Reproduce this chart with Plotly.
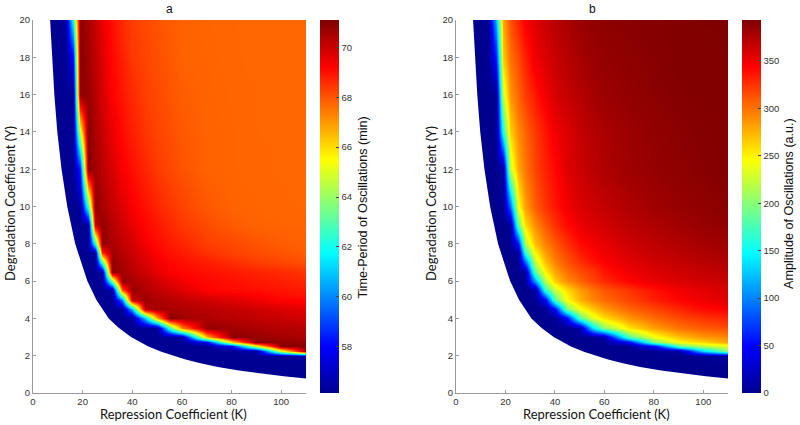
import plotly.graph_objects as go

# ---- grid (cell centres) ----
K_vals = [0, 5, 10, 13, 16, 19, 22, 25, 28, 32, 36, 40, 45, 50, 55, 60, 70, 80, 90, 100, 110]
gamma_vals = [0, 0.5, 1, 1.5, 2, 2.25, 2.5, 2.75, 3, 3.5, 4, 4.5, 5, 5.5, 6, 6.5, 7, 7.5, 8, 9, 10, 12, 14, 16, 18, 20]
N = None

# ---- panel a: time-period of oscillations (min), rows = gamma, cols = K ----
period = [
    [N]*21,
    [N]*21,
    [56.2]*21,
    [56.2]*21,
    [56.2]*20 + [56.5],
    [56.2]*18 + [56.5, 64.8, 70.6],
    [56.2]*17 + [58.0, 65.0, 71.0, 70.91],
    [56.2]*16 + [58.0, 66.0, 70.96, 70.84, 70.71],
    [56.2]*15 + [56.5, 66.6, 70.95, 70.77, 70.59, 70.43],
    [56.2]*14 + [62.8, 67.3, 70.85, 70.6, 70.45, 70.35, 70.27],
    [56.2]*12 + [60.9, 66.8, 71.0, 70.6, 70.4, 70.28, 70.15, 70.02, 69.89],
    [56.2]*11 + [60.7, 70.3, 70.6, 70.47, 70.39, 70.24, 70.09, 69.94, 69.79, 69.64],
    [56.2]*10 + [59.8, 70.0, 70.7, 70.43, 70.31, 70.18, 69.94, 69.69, 69.45, 69.2, 69.12],
    [56.2]*9 + [56.4, 67.9, 70.8, 70.41, 70.17, 69.93, 69.69, 69.2, 69.12, 69.03, 68.95, 68.86],
    [56.2]*9 + [63.6, 70.9, 70.5, 70.22, 69.93, 69.65, 69.37, 69.12, 69.01, 68.9, 68.79, 68.68],
    [56.2]*8 + [56.4, 70.8, 70.6, 70.29, 69.95, 69.61, 69.27, 69.15, 69.02, 68.88, 68.75, 68.62, 68.48],
    [56.2]*8 + [63.0, 70.95, 70.45, 70.15, 69.79, 69.42, 69.15, 69.04, 68.81, 68.58, 68.35, 68.21, 68.08],
    [56.2]*7 + [56.3, 68.5, 70.6, 70.32, 70.0, 69.6, 69.2, 69.03, 68.87, 68.54, 68.29, 68.15, 68.01, 67.87],
    [56.2]*7 + [62.2, 70.8, 70.5, 70.15, 69.89, 69.37, 69.09, 68.9, 68.71, 68.34, 68.19, 68.03, 67.88, 67.8],
    [56.2]*6 + [56.3, 70.0, 70.85, 70.31, 69.94, 69.57, 69.15, 68.91, 68.67, 68.42, 68.14, 67.9, 67.79, 67.77, 67.75],
    [56.2]*6 + [62.5, 71.0, 70.5, 70.1, 69.7, 69.3, 68.99, 68.73, 68.46, 68.26, 67.95, 67.79, 67.76, 67.74, 67.72],
    [56.2]*5 + [58.5, 70.95, 70.6, 70.26, 69.79, 69.32, 69.01, 68.7, 68.38, 68.2, 68.03, 67.79, 67.76, 67.74, 67.72, 67.7],
    [56.2]*5 + [65.0, 71.0, 70.46, 70.05, 69.51, 69.08, 68.8, 68.46, 68.25, 68.1, 67.94, 67.79, 67.76, 67.73, 67.71, 67.7],
    [56.2]*5 + [70.9, 70.75, 70.3, 69.84, 69.23, 68.93, 68.64, 68.32, 68.17, 68.01, 67.86, 67.78, 67.75, 67.72, 67.7, 67.7],
    [56.2]*4 + [58.0, 71.0, 70.6, 70.18, 69.71, 69.13, 68.78, 68.44, 68.23, 68.09, 67.94, 67.8, 67.77, 67.74, 67.71, 67.7, 67.7],
    [56.2]*4 + [62.0, 70.9, 70.52, 70.04, 69.54, 69.01, 68.63, 68.32, 68.18, 68.03, 67.89, 67.79, 67.76, 67.73, 67.7, 67.7, 67.7],
]

# ---- panel b: amplitude of oscillations (a.u.) ----
amplitude = [
    [N]*21,
    [N]*21,
    [0]*21,
    [0]*21,
    [0]*20 + [10],
    [0]*18 + [10, 130, 200],
    [0]*17 + [50, 180, 220, 235],
    [0]*16 + [50, 195, 245, 262, 280],
    [0]*15 + [10, 180, 240, 270, 285, 292],
    [0]*13 + [10, 130, 200, 255, 282, 300, 308, 314],
    [0]*12 + [50, 180, 232, 258, 286, 303, 316, 324, 330],
    [0]*11 + [50, 195, 242, 266, 284, 305, 317, 330, 340, 345],
    [0]*10 + [40, 180, 245, 275, 292, 302, 318, 332, 343, 350, 355],
    [0]*9 + [5, 165, 225, 258, 283, 298, 310, 324, 338, 348, 354, 360],
    [0]*9 + [110, 220, 265, 290, 305, 318, 328, 343, 352, 358, 362, 366],
    [0]*8 + [5, 185, 248, 280, 300, 315, 322, 336, 349, 357, 362, 366, 370],
    [0]*8 + [85, 225, 270, 295, 312, 326, 336, 344, 355, 362, 367, 371, 374],
    [0]*7 + [3, 160, 248, 282, 302, 318, 333, 342, 349, 359, 366, 371, 375, 378],
    [0]*7 + [50, 215, 270, 293, 310, 326, 340, 347, 353, 363, 369, 374, 378, 381],
    [0]*7 + [185, 258, 290, 310, 326, 340, 351, 357, 362, 370, 375, 380, 384, 387],
    [0]*6 + [85, 240, 282, 308, 324, 336, 349, 358, 362, 367, 374, 380, 384, 387, 389],
    [0]*5 + [8, 225, 278, 298, 318, 331, 342, 356, 364, 370, 375, 381, 385, 388, 390, 392],
    [0]*5 + [160, 262, 290, 305, 322, 336, 349, 358, 366, 372, 376, 382, 386, 389, 391, 392],
    [0]*5 + [230, 285, 305, 320, 336, 349, 360, 366, 373, 378, 382, 386, 389, 391, 392, 392],
    [0]*4 + [60, 265, 300, 315, 332, 350, 358, 365, 372, 378, 382, 385, 388, 390, 392, 392, 393],
    [0]*4 + [120, 280, 312, 331, 346, 356, 365, 372, 377, 383, 386, 388, 390, 391, 392, 393, 393],
]

# ---- onset of oscillations (boundary of the coloured region; last points run past the K axis) ----
onset_gamma = [20, 18, 16, 14, 12, 10, 8, 6, 5, 4, 3.5, 3, 2.5, 2.2, 2.0, 1.8, 1.6, 1.4, 1.2, 1.0, 0.9, 0.78, 0.6, 0.4, 0.2, 0]
onset_K = [6.9, 7.7, 8.6, 9.8, 11.5, 13.8, 17.0, 21.9, 25.5, 30.5, 34.5, 39.5, 46.5, 52.0, 56.5, 61.5, 67.5, 74.5, 83.0, 94.0, 101.0, 110.0, 129, 158, 203, 284]

period_ticks = [58, 60, 62, 64, 66, 68, 70]
amp_ticks = [0, 50, 100, 150, 200, 250, 300, 350]
x_ticks = [0, 20, 40, 60, 80, 100]
y_ticks = [0, 2, 4, 6, 8, 10, 12, 14, 16, 18, 20]

jet = [
    [0.0, "rgb(0,0,143)"],
    [0.125, "rgb(0,0,255)"],
    [0.375, "rgb(0,255,255)"],
    [0.625, "rgb(255,255,0)"],
    [0.875, "rgb(255,0,0)"],
    [1.0, "rgb(128,0,0)"],
]

W, H = 800, 425
def px(x):
    return x / W
def py(y):
    return (H - y) / H

TICKFONT = dict(family="Liberation Sans, Arial, sans-serif", size=9.5, color="#333333")

fig = go.Figure()

cb_common = dict(
    lenmode="pixels", len=373, thickness=19, xanchor="left", yanchor="bottom",
    y=py(393), xpad=0, ypad=0, outlinewidth=0, ticks="inside", ticklen=3,
    tickcolor="#444444", tickfont=TICKFONT,
)

fig.add_trace(go.Heatmap(
    x=K_vals, y=gamma_vals, z=period, colorscale=jet, zmin=56.14, zmax=71.1,
    zsmooth="best", xaxis="x", yaxis="y", hoverinfo="skip",
    colorbar=dict(x=px(320), tickvals=period_ticks, **cb_common),
))
fig.add_trace(go.Heatmap(
    x=K_vals, y=gamma_vals, z=amplitude, colorscale=jet, zmin=0, zmax=393,
    zsmooth="best", xaxis="x2", yaxis="y2", hoverinfo="skip",
    colorbar=dict(x=px(742), tickvals=amp_ticks, **cb_common),
))
for xa, ya in (("x", "y"), ("x2", "y2")):
    fig.add_trace(go.Scatter(
        x=onset_K, y=onset_gamma, mode="lines", fill="tozerox",
        fillcolor="white", line=dict(width=0, color="white"),
        xaxis=xa, yaxis=ya, hoverinfo="skip", showlegend=False,
    ))

ax_common = dict(
    showline=True, linecolor="#9a9a9a", linewidth=1, ticks="inside", ticklen=3,
    tickcolor="#9a9a9a", showgrid=False, zeroline=False, tickfont=TICKFONT,
    layer="above traces", automargin=False,
)
fig.update_layout(
    width=W, height=H, margin=dict(l=0, r=0, t=0, b=0, autoexpand=False),
    paper_bgcolor="white", plot_bgcolor="white", showlegend=False,
    xaxis=dict(domain=[px(33), px(306)], range=[0, 110], tickvals=x_ticks, anchor="y", **ax_common),
    yaxis=dict(domain=[py(393), py(20)], range=[0, 20], tickvals=y_ticks, anchor="x", **ax_common),
    xaxis2=dict(domain=[px(456), px(728)], range=[0, 110], tickvals=x_ticks, anchor="y2", **ax_common),
    yaxis2=dict(domain=[py(393), py(20)], range=[0, 20], tickvals=y_ticks, anchor="x2", **ax_common),
)

LAB = dict(family="Lato, Carlito, Calibri, sans-serif", size=13, color="#111111")
CBT = dict(family="Liberation Sans, Arial, sans-serif", size=12.6, color="#111111")
TT = dict(family="Liberation Sans, Arial, sans-serif", size=12, color="#111111")
ann = [
    dict(text="a", x=px(169.5), y=py(9), font=TT),
    dict(text="b", x=px(592), y=py(9), font=TT),
    dict(text="Degradation Coefficient (Y)", x=px(9.5), y=py(203.5), textangle=-90, font=LAB),
    dict(text="Repression Coefficient (K)", x=px(173), y=py(414), font=LAB),
    dict(text="Degradation Coefficient (Y)", x=px(430.5), y=py(203.5), textangle=-90, font=LAB),
    dict(text="Repression Coefficient (K)", x=px(596), y=py(414), font=LAB),
    dict(text="Time-Period of Oscillations (min)", x=px(362), y=py(207.5), textangle=-90, font=CBT),
    dict(text="Amplitude of Oscillations (a.u.)", x=px(789), y=py(204), textangle=-90, font=CBT),
]
for a in ann:
    a.update(xref="paper", yref="paper", xanchor="center", yanchor="middle", showarrow=False)
fig.update_layout(annotations=ann)

fig.write_html(
    "out.html",
    config={"displayModeBar": False},
    post_script="document.body.style.margin='0';document.body.style.overflow='hidden';",
)
